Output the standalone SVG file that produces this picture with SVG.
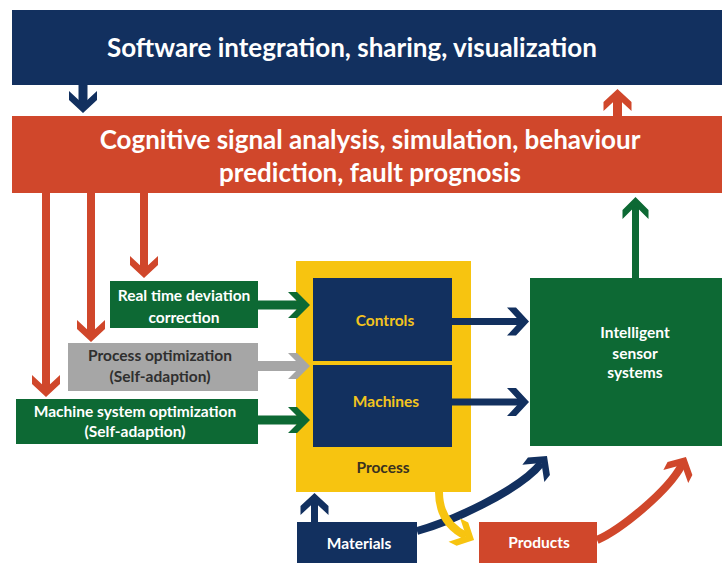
<svg xmlns="http://www.w3.org/2000/svg" width="722" height="563" viewBox="0 0 722 563">
  <defs>
    <style>
      text { font-family: Lato, "Open Sans", "Liberation Sans", sans-serif; font-weight: bold; text-anchor: middle; }
      .bar { font-size: 26px; fill: #ffffff; }
      .lbl { font-size: 15.5px; fill: #ffffff; }
      .dark { fill: #2f2f2f; }
      .gold { fill: #f3c41e; }
      .ptxt { fill: #3a3220; }
      .c-blue { fill: #12305f; }
      .c-red { fill: #d0472b; }
      .c-green { fill: #0d6934; }
      .c-gray { fill: #a6a6a6; }
      .c-yellow { fill: #f7c410; }
      .ln { fill: none; stroke-linecap: butt; }
      .s-blue { stroke: #12305f; }
      .s-red { stroke: #d0472b; }
      .s-green { stroke: #0d6934; }
      .s-gray { stroke: #a6a6a6; }
      .s-yellow { stroke: #f7c410; }
    </style>
    <!-- chevron heads: reference point at the notch, tip 9px ahead -->
    <marker id="hBlue" markerUnits="userSpaceOnUse" viewBox="-14 -15 24 30" markerWidth="24" markerHeight="30" refX="0" refY="0" orient="auto">
      <path d="M9,0 L-4,-14 L-13,-14 L0,0 L-13,14 L-4,14Z" fill="#12305f"/>
    </marker>
    <marker id="hRed" markerUnits="userSpaceOnUse" viewBox="-14 -15 24 30" markerWidth="24" markerHeight="30" refX="0" refY="0" orient="auto">
      <path d="M9,0 L-4,-14 L-13,-14 L0,0 L-13,14 L-4,14Z" fill="#d0472b"/>
    </marker>
    <marker id="hGreen" markerUnits="userSpaceOnUse" viewBox="-14 -15 24 30" markerWidth="24" markerHeight="30" refX="0" refY="0" orient="auto">
      <path d="M9,0 L-4,-13 L-13,-13 L0,0 L-13,13 L-4,13Z" fill="#0d6934"/>
    </marker>
    <marker id="hGray" markerUnits="userSpaceOnUse" viewBox="-14 -15 24 30" markerWidth="24" markerHeight="30" refX="0" refY="0" orient="auto">
      <path d="M9,0 L-4,-13 L-13,-13 L0,0 L-13,13 L-4,13Z" fill="#a6a6a6"/>
    </marker>
    <marker id="hYellow" markerUnits="userSpaceOnUse" viewBox="-14 -15 24 30" markerWidth="24" markerHeight="30" refX="0" refY="0" orient="auto">
      <path d="M9,0 L-4,-13 L-13,-13 L0,0 L-13,13 L-4,13Z" fill="#f7c410"/>
    </marker>
  </defs>

  <rect width="722" height="563" fill="#ffffff"/>

  <!-- top layers -->
  <g id="software">
    <rect class="c-blue" x="12" y="10" width="710" height="75"/>
    <text class="bar" x="352" y="57">Software integration, sharing, visualization</text>
  </g>
  <g id="cognitive">
    <rect class="c-red" x="12" y="116" width="710" height="77"/>
    <text class="bar" x="370" y="149">Cognitive signal analysis, simulation, behaviour</text>
    <text class="bar" x="370" y="182">prediction, fault prognosis</text>
  </g>

  <!-- adaption boxes -->
  <g id="realtime">
    <rect class="c-green" x="110" y="281" width="148" height="47"/>
    <text class="lbl" x="184" y="301">Real time deviation</text>
    <text class="lbl" x="184" y="323">correction</text>
  </g>
  <g id="processopt">
    <rect class="c-gray" x="68" y="343" width="190" height="48"/>
    <text class="lbl dark" x="160" y="361">Process optimization</text>
    <text class="lbl dark" x="160" y="382">(Self-adaption)</text>
  </g>
  <g id="machineopt">
    <rect class="c-green" x="16" y="399" width="242" height="45"/>
    <text class="lbl" x="135" y="417">Machine system optimization</text>
    <text class="lbl" x="135" y="437">(Self-adaption)</text>
  </g>

  <!-- process block -->
  <g id="process">
    <rect class="c-yellow" x="296" y="261" width="175" height="231"/>
    <text class="lbl ptxt" x="383" y="473">Process</text>
  </g>
  <g id="controls">
    <rect class="c-blue" x="313" y="278" width="139" height="83"/>
    <text class="lbl gold" x="385" y="326">Controls</text>
  </g>
  <g id="machines">
    <rect class="c-blue" x="313" y="365" width="139" height="82"/>
    <text class="lbl gold" x="386" y="407">Machines</text>
  </g>

  <!-- sensing -->
  <g id="sensors">
    <rect class="c-green" x="530" y="278" width="192" height="168"/>
    <text class="lbl" x="635" y="338">Intelligent</text>
    <text class="lbl" x="635" y="359">sensor</text>
    <text class="lbl" x="635" y="378">systems</text>
  </g>

  <!-- flow ends -->
  <g id="materials">
    <rect class="c-blue" x="297" y="522" width="120" height="41"/>
    <text class="lbl" x="359" y="549">Materials</text>
  </g>
  <g id="products">
    <rect class="c-red" x="479" y="522" width="118" height="41"/>
    <text class="lbl" x="539" y="548">Products</text>
  </g>

  <!-- connectors -->
  <g id="connectors">
    <path class="ln s-blue" stroke-width="9" d="M83,85 V104" marker-end="url(#hBlue)"/>
    <path class="ln s-red" stroke-width="9" d="M617.5,116 V98" marker-end="url(#hRed)"/>

    <path class="ln s-red" stroke-width="8" d="M46,193 V388" marker-end="url(#hRed)"/>
    <path class="ln s-red" stroke-width="8" d="M91,193 V333" marker-end="url(#hRed)"/>
    <path class="ln s-red" stroke-width="8" d="M144,193 V269" marker-end="url(#hRed)"/>

    <path class="ln s-green" stroke-width="9" d="M258,305 H301" marker-end="url(#hGreen)"/>
    <path class="ln s-gray" stroke-width="10" d="M258,366 H301" marker-end="url(#hGray)"/>
    <path class="ln s-green" stroke-width="9" d="M258,420 H301" marker-end="url(#hGreen)"/>

    <path class="ln s-blue" stroke-width="7" d="M452,321.5 H520" marker-end="url(#hBlue)"/>
    <path class="ln s-blue" stroke-width="7" d="M452,402 H520" marker-end="url(#hBlue)"/>

    <path class="ln s-green" stroke-width="7" d="M635.5,278 V206" marker-end="url(#hGreen)"/>

    <path class="ln s-blue" stroke-width="7" d="M314.5,522 V502" marker-end="url(#hBlue)"/>

    <path class="ln s-blue" stroke-width="8" d="M417,531 C450,522 519.7,490.6 541.4,463.1" marker-end="url(#hBlue)"/>
    <path class="ln s-yellow" stroke-width="8" d="M439,492 C439,515 450,528 466,536" marker-end="url(#hYellow)"/>
    <path class="ln s-red" stroke-width="8" d="M597,540 C620,530 668,491.5 681.8,465" marker-end="url(#hRed)"/>
  </g>
</svg>
